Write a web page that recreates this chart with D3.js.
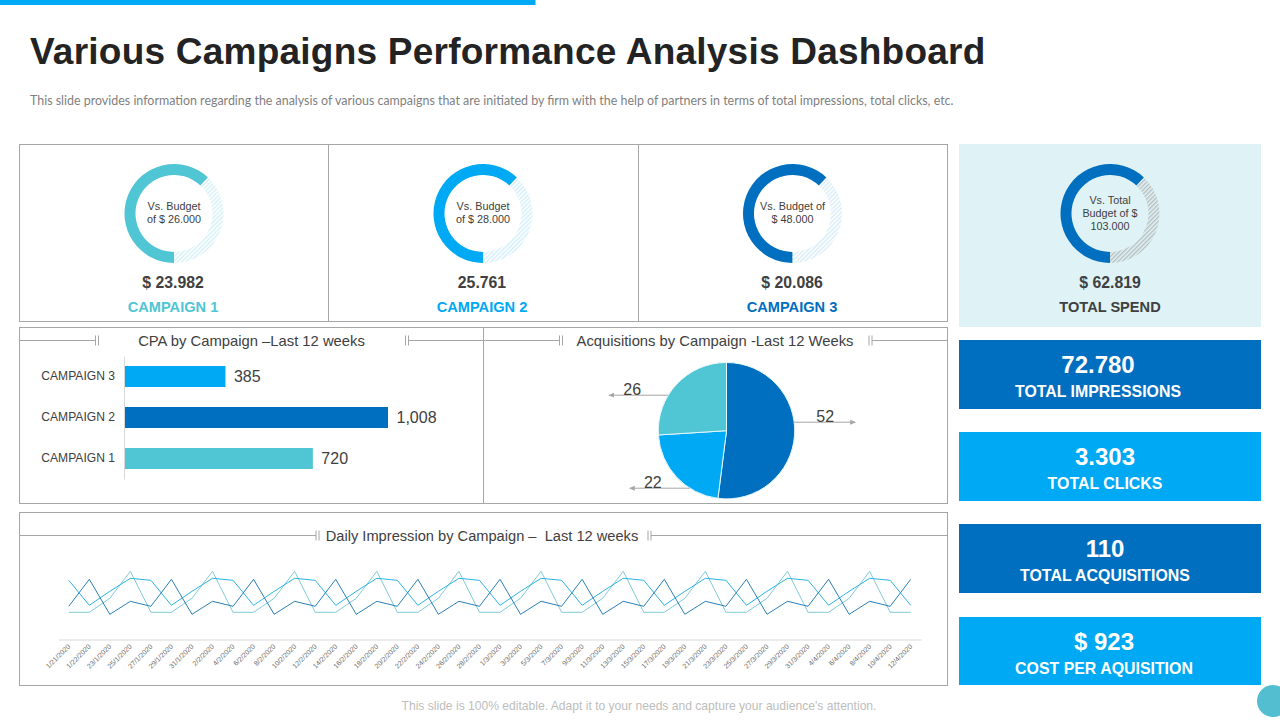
<!DOCTYPE html>
<html>
<head>
<meta charset="utf-8">
<script src="https://cdn.jsdelivr.net/npm/d3@7/dist/d3.min.js"></script>
<style>
html,body{margin:0;padding:0;background:#fff;overflow:hidden}
svg{display:block}
text{font-family:"Liberation Sans",Arial,sans-serif}
</style>
</head>
<body>
<svg id="c" width="1280" height="720"></svg>
<script>
// ---------- data ----------
const titleText = "Various Campaigns Performance Analysis Dashboard";
const subtitleText = "This slide provides information regarding the analysis of various campaigns that are initiated by firm with the help of partners in terms of total impressions, total clicks, etc.";
const footerText = "This slide is 100% editable. Adapt it to your needs and capture your audience's attention.";

const donutNames = ["CAMPAIGN 1", "CAMPAIGN 2", "CAMPAIGN 3", "TOTAL SPEND"];
const donutAmounts = ["$ 23.982", "25.761", "$ 20.086", "$ 62.819"];
const donutCaptions = [["Vs. Budget", "of $ 26.000"], ["Vs. Budget", "of $ 28.000"], ["Vs. Budget of", "$ 48.000"], ["Vs. Total", "Budget of $", "103.000"]];
const donutFilled = [62, 62, 62, 62];
const donutRemainder = [38, 38, 38, 38];

const cpaCampaigns = ["CAMPAIGN 3", "CAMPAIGN 2", "CAMPAIGN 1"];
const cpaValues = [385, 1008, 720];

const acquisitionNames = ["Campaign 3", "Campaign 2", "Campaign 1"];
const acquisitionValues = [52, 22, 26];

const kpiValues = ["72.780", "3.303", "110", "$ 923"];
const kpiLabels = ["TOTAL IMPRESSIONS", "TOTAL CLICKS", "TOTAL ACQUISITIONS", "COST PER AQUISITION"];

const dateLabels = ["1/21/2020","1/22/2020","23/1/2020","25/1/2020","27/1/2020","29/1/2020","31/1/2020","2/2/2020","4/2/2020","6/2/2020","8/2/2020","10/2/2020","12/2/2020","14/2/2020","16/2/2020","18/2/2020","20/2/2020","22/2/2020","24/2/2020","26/2/2020","28/2/2020","1/3/2020","3/3/2020","5/3/2020","7/3/2020","9/3/2020","11/3/2020","13/3/2020","15/3/2020","17/3/2020","19/3/2020","21/3/2020","23/3/2020","25/3/2020","27/3/2020","29/3/2020","31/3/2020","4/4/2020","6/4/2020","8/4/2020","10/4/2020","12/4/2020"];
const dailyCampaign1 = [27,27,41,68,27,27,41,68,27,27,41,68,27,27,41,68,27,27,41,68,27,27,41,68,27,27,41,68,27,27,41,68,27,27,41,68,27,27,41,68,27,27];
const dailyCampaign2 = [59,34,48,61,59,34,48,61,59,34,48,61,59,34,48,61,59,34,48,61,59,34,48,61,59,34,48,61,59,34,48,61,59,34,48,61,59,34,48,61,59,34];
const dailyCampaign3 = [33,60,25,38,33,60,25,38,33,60,25,38,33,60,25,38,33,60,25,38,33,60,25,38,33,60,25,38,33,60,25,38,33,60,25,38,33,60,25,38,33,60];

// ---------- style ----------
const TEAL = "#50c5d4", BLUE = "#00a9f4", DARK = "#016fbf", BORDER = "#a6a6a6", INK = "#404040";
const svg = d3.select("#c");
const defs = svg.append("defs");

function label(parent, x, y, s, size, fill, opts) {
  opts = opts || {};
  const t = parent.append("text").attr("x", x).attr("y", y).text(s)
    .attr("font-size", size).attr("fill", fill)
    .attr("text-anchor", opts.anchor || "middle")
    .attr("font-weight", opts.weight || "normal")
    .attr("letter-spacing", opts.spacing || null);
  if (opts.family) t.style("font-family", opts.family);
  return t;
}
function box(x, y, w, h, fill, stroke) {
  svg.append("rect").attr("x", x).attr("y", y).attr("width", w).attr("height", h)
    .attr("fill", fill || "none").attr("stroke", stroke || "none");
}
function vline(x, y1, y2) {
  svg.append("line").attr("x1", x).attr("x2", x).attr("y1", y1).attr("y2", y2).attr("stroke", BORDER);
}

// ---------- header ----------
box(0, 0, 535.5, 5, BLUE);
label(svg, 30, 63.5, titleText, 37, "#232323", {anchor: "start", weight: "bold", spacing: "0.23px"});
label(svg, 30, 105, subtitleText, 12.45, "#7f7f7f", {anchor: "start", family: "Lato"});
label(svg, 639, 709.5, footerText, 12.1, "#bdbdbd");

// ---------- panels ----------
box(959, 144, 302, 183, "#dff3f7");
box(19.5, 144.5, 928, 177, null, BORDER);
vline(328.5, 144.5, 321.5);
vline(638.5, 144.5, 321.5);
box(19.5, 327.5, 928, 176, null, BORDER);
vline(483.5, 327.5, 503.5);
box(19.5, 512.5, 928, 173, null, BORDER);

// ---------- donuts ----------
const donutColors = [TEAL, BLUE, DARK, DARK];
const hatchColors = ["#d3eff4", "#d0eefa", "#d6ebf7", "#b9bdbe"];
const donutX = [174, 483, 792.5, 1110];
const labelX = [173, 482, 792, 1110];
const donutPie = d3.pie().sort(null).startAngle(Math.PI).endAngle(3 * Math.PI);
const donutArc = d3.arc().innerRadius(38.5).outerRadius(49.5);
donutNames.forEach((name, i) => {
  const pid = "hatch" + i;
  const p = defs.append("pattern").attr("id", pid).attr("patternUnits", "userSpaceOnUse")
    .attr("width", 3).attr("height", 3).attr("patternTransform", "rotate(45)");
  p.append("rect").attr("width", 1.4).attr("height", 3).attr("fill", hatchColors[i]);
  const g = svg.append("g").attr("transform", `translate(${donutX[i]},213.5)`);
  g.selectAll("path").data(donutPie([donutFilled[i], donutRemainder[i]])).join("path")
    .attr("d", donutArc).attr("fill", (d, j) => j === 0 ? donutColors[i] : `url(#${pid})`);
  const lines = donutCaptions[i];
  lines.forEach((t, k) => {
    label(g, 0, 13 * (k - (lines.length - 1) / 2) + (lines.length === 2 ? 2.9 : 3.7), t, 10.8, INK);
  });
  label(svg, labelX[i], 287.5, donutAmounts[i], 15.8, INK, {weight: "bold"});
  label(svg, labelX[i], 311.5, name, 14.6, i === 3 ? INK : donutColors[i], {weight: "bold"});
});

// ---------- section headers ----------
function sectionHeader(y, text, x0, tickL, tickR, x1, size, cx) {
  label(svg, cx, y + 5, text, size, INK);
  const g = svg.append("g").attr("stroke", BORDER).attr("fill", "none");
  g.append("line").attr("x1", x0).attr("x2", tickL).attr("y1", y).attr("y2", y);
  g.append("line").attr("x1", tickR + 3).attr("x2", x1).attr("y1", y).attr("y2", y);
  [tickL, tickL + 3, tickR, tickR + 3].forEach(x => {
    g.append("line").attr("x1", x).attr("x2", x).attr("y1", y - 5).attr("y2", y + 5);
  });
}
sectionHeader(340.5, "CPA by Campaign \u2013Last 12 weeks", 20, 95.5, 405.5, 483, 14.8, 251.5);
sectionHeader(340.5, "Acquisitions by Campaign -Last 12 Weeks", 484, 559.5, 869, 947, 14.8, 715);
sectionHeader(535.5, "Daily Impression by Campaign \u2013\u00a0 Last 12 weeks", 20, 316, 648, 947, 14.65, 482);

// ---------- CPA bars ----------
const barX = d3.scaleLinear().domain([0, 1008]).range([125, 388]);
const barY = d3.scaleBand().domain(cpaCampaigns).range([356, 479]).paddingInner(0.488).paddingOuter(0.244);
const barColor = d3.scaleOrdinal().domain(cpaCampaigns).range([BLUE, DARK, TEAL]);
const barG = svg.append("g");
barG.selectAll("rect").data(cpaValues).join("rect")
  .attr("x", barX(0)).attr("y", (d, i) => barY(cpaCampaigns[i]))
  .attr("width", d => barX(d) - barX(0)).attr("height", barY.bandwidth())
  .attr("fill", (d, i) => barColor(cpaCampaigns[i]));
barG.selectAll("text.v").data(cpaValues).join("text").attr("class", "v")
  .attr("x", d => barX(d) + 8.5).attr("y", (d, i) => barY(cpaCampaigns[i]) + barY.bandwidth() / 2 + 5.5)
  .attr("font-size", 16).attr("fill", INK).text(d => d3.format(",")(d));
const barAxis = svg.append("g").attr("transform", "translate(124,0)")
  .call(d3.axisLeft(barY).tickSize(0).tickPadding(9));
barAxis.select(".domain").attr("stroke", "#d9d9d9");
barAxis.selectAll("text").attr("font-size", 12.1).attr("fill", INK).attr("font-family", null);

// ---------- pie ----------
const pieCx = 726.5, pieCy = 430.7, pieR = 68.2;
const pieG = svg.append("g").attr("transform", `translate(${pieCx},${pieCy})`);
const pieColors = [DARK, BLUE, TEAL];
pieG.selectAll("path").data(d3.pie().sort(null)(acquisitionValues)).join("path")
  .attr("d", d3.arc().innerRadius(0).outerRadius(pieR))
  .attr("fill", (d, i) => pieColors[i]).attr("stroke", "#e4f7fb").attr("stroke-width", 1);
defs.append("marker").attr("id", "arrow").attr("viewBox", "0 0 6 6").attr("refX", 5).attr("refY", 3)
  .attr("markerWidth", 6).attr("markerHeight", 6).attr("orient", "auto-start-reverse")
  .append("path").attr("d", "M0,0.5L6,3L0,5.5Z").attr("fill", BORDER);
const leaderDy = [-8.5, 57.5, -35.5];
const leaderLen = [61, 60, 59];
const leaderTextOffset = [31, 37, 36];
acquisitionValues.forEach((v, i) => {
  const dir = i === 0 ? 1 : -1;
  const y = pieCy + leaderDy[i];
  const start = pieCx + dir * Math.sqrt(pieR * pieR - leaderDy[i] * leaderDy[i]);
  svg.append("line").attr("x1", start).attr("y1", y).attr("x2", start + dir * leaderLen[i]).attr("y2", y)
    .attr("stroke", BORDER).attr("marker-end", "url(#arrow)");
  label(svg, start + dir * leaderTextOffset[i], y + 0.2, v, 16, INK);
});

// ---------- daily lines ----------
const lineX = d3.scaleBand().domain(dateLabels).range([58.5, 921]);
const lineY = d3.scaleLinear().domain([0, 100]).range([639.3, 539.3]);
const lineGen = d3.line().x((d, i) => lineX(dateLabels[i]) + lineX.bandwidth() / 2).y(d => lineY(d));
const dailySeries = [dailyCampaign1, dailyCampaign2, dailyCampaign3];
const lineColors = ["#7fcbd8", "#2bb4e4", "#2b7fb8"];
svg.append("g").selectAll("path").data(dailySeries).join("path")
  .attr("d", lineGen).attr("fill", "none").attr("stroke", (d, i) => lineColors[i]).attr("stroke-width", 1);
const xAxis = svg.append("g").attr("transform", "translate(0,639.5)")
  .call(d3.axisBottom(lineX).tickSize(0).tickPadding(5));
xAxis.select(".domain").attr("stroke", "#d9d9d9");
xAxis.selectAll("text").attr("font-size", 7).attr("fill", "#6b6b6b").attr("font-family", null)
  .attr("text-anchor", "end").attr("dy", 0).attr("y", 0).attr("x", 0)
  .attr("transform", "translate(2,7.5) rotate(-45)");

// ---------- KPI tiles ----------
const kpiTop = [340, 432, 524, 617];
const kpiHeight = [69, 69, 69, 68];
const kpiFill = [DARK, BLUE, DARK, BLUE];
const kpiCx = [1098, 1105, 1105, 1104];
kpiValues.forEach((v, i) => {
  box(959, kpiTop[i], 302, kpiHeight[i], kpiFill[i]);
  label(svg, kpiCx[i], kpiTop[i] + 33, v, 24, "#fff", {weight: "bold"});
  label(svg, kpiCx[i], kpiTop[i] + 56.5, kpiLabels[i], 15.9, "#fff", {weight: "bold"});
});

// ---------- corner dot ----------
svg.append("circle").attr("cx", 1273).attr("cy", 701).attr("r", 16).attr("fill", "#52bed0");
</script>
</body>
</html>
